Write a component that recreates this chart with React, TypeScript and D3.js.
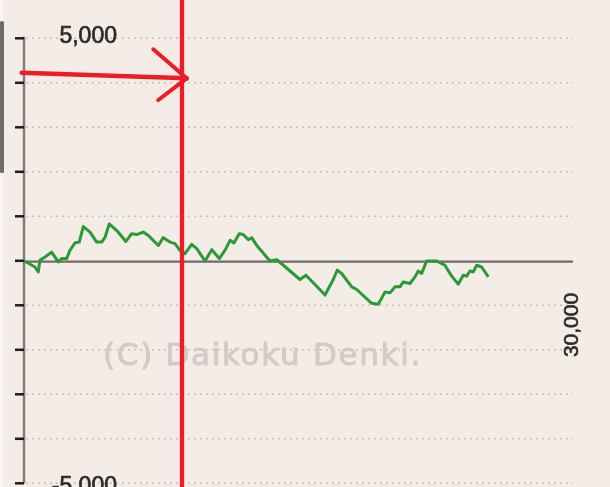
import React from "react";
import * as d3 from "d3";

// Games played (x) and coin difference (y)
const games = [
  0, 600, 780, 870, 1150, 1510, 1870, 2060, 2330, 2510, 2790, 3020, 3240, 3610,
  3970, 4250, 4430, 4660, 5070, 5570, 5880, 6160, 6520, 6790, 7340, 7610, 7980,
  8250, 8520, 8800, 9160, 9440, 9890, 10260, 10670, 10980, 11260, 11470, 11760,
  11980, 12260, 12440, 12720, 13440, 13810, 14170, 15080, 15410, 16450, 16900,
  17120, 17360, 17910, 18180, 19000, 19360, 19730, 20000, 20270, 20545, 20725,
  21090, 21365, 21545, 21730, 22000, 22550, 23000, 23370, 23730, 24000, 24190,
  24370, 24550, 24740, 25010, 25370,
];
const diff = [
  0, -140, -250, 10, 85, 195, -25, 50, 50, 235, 405, 420, 770, 645, 420, 420,
  530, 830, 680, 435, 610, 590, 645, 570, 345, 520, 420, 385, 235, 160, 370, 275,
  -5, 250, 50, 235, 460, 400, 610, 590, 475, 520, 345, -5, 25, -100, -420, -325,
  -770, -420, -210, -285, -585, -645, -955, -975, -700, -720, -585, -585, -475,
  -510, -360, -230, -285, -5, -5, -100, -345, -525, -325, -345, -230, -250, -100,
  -140, -360,
];

const yGridValues = [5000, 4000, 3000, 2000, 1000, -1000, -2000, -3000, -4000, -5000];
const yTickValues = [5000, 4000, 3000, 2000, 1000, 0, -1000, -2000, -3000, -4000, -5000];
const yLabels = [
  { value: 5000, text: "5,000" },
  { value: -5000, text: "-5,000" },
];
const xLabels = [{ value: 30000, text: "30,000" }];
const watermark = "(C) Daikoku Denki.";

// red hand-drawn annotation (in data units)
const markerGame = 8633;
const arrowStart = { g: -125, v: 4227 };
const arrowEnd = { g: 8890, v: 4101 };
const arrowWing1 = { g: 7065, v: 4753 };
const arrowWing2 = { g: 7338, v: 3613 };

export default function App() {
  const W = 610;
  const H = 487;
  const x = d3.scaleLinear().domain([0, 30000]).range([24, 573]);
  const y = d3.scaleLinear().domain([-5000, 5000]).range([483.3, 38.3]);
  const line = d3
    .line<number>()
    .x((_, i) => x(games[i]))
    .y((d) => y(d));
  const pathD = line(diff) || "";
  const font = "'Liberation Sans', Arial, sans-serif";
  const red = "#ee1c25";

  return (
    <svg
      width={W}
      height={H}
      style={{ position: "absolute", left: 0, top: 0, display: "block" }}
    >
      <defs>
        <filter id="soft" x="-5%" y="-5%" width="110%" height="110%">
          <feGaussianBlur stdDeviation="0.45" />
        </filter>
      </defs>
      <rect x={0} y={0} width={W} height={H} fill="#f4ece7" />
      <rect x={0} y={0} width={3} height={H} fill="#f6f4f4" />
      <rect x={0} y={21} width={4} height={152} rx={1.5} fill="#6d6b6b" />

      <g filter="url(#soft)">
        {/* grid */}
        {yGridValues.map((v) => (
          <line
            key={v}
            x1={x(0) + 2}
            x2={x(30000)}
            y1={y(v)}
            y2={y(v)}
            stroke="#c6c0bd"
            strokeWidth={1.6}
            strokeDasharray="2,4"
          />
        ))}

        {/* watermark */}
        <text
          x={103}
          y={365}
          fontFamily="'DejaVu Sans', Verdana, sans-serif"
          fontSize={31}
          letterSpacing={1.7}
          fill="#d3cbc7"
          stroke="#d3cbc7"
          strokeWidth={0.9}
        >
          {watermark}
        </text>

        {/* zero line */}
        <line
          x1={x(0)}
          x2={x(30000)}
          y1={y(0) + 0.8}
          y2={y(0) + 0.8}
          stroke="#726a6a"
          strokeWidth={2.2}
        />

        {/* y axis */}
        <line x1={x(0)} x2={x(0)} y1={y(5000) - 1.5} y2={y(-5000)} stroke="#857c7c" strokeWidth={2.5} />
        {yTickValues.map((v) => (
          <line
            key={v}
            x1={15}
            x2={x(0)}
            y1={y(v)}
            y2={y(v)}
            stroke="#1e1e1e"
            strokeWidth={2.5}
          />
        ))}

        {yLabels.map((l) => (
          <text
            key={l.value}
            x={117}
            y={y(l.value) + (l.value > 0 ? 4.5 : 9.5)}
            textAnchor="end"
            fontFamily={font}
            fontSize={23}
            fill="#2c2c2c"
            stroke="#2c2c2c"
            strokeWidth={0.7}
          >
            {l.text}
          </text>
        ))}

        {xLabels.map((l) => (
          <text
            key={l.value}
            transform={`translate(${x(l.value) + 5},325) rotate(-90)`}
            textAnchor="middle"
            fontFamily={font}
            fontSize={21}
            fill="#2c2c2c"
            stroke="#2c2c2c"
            strokeWidth={0.6}
          >
            {l.text}
          </text>
        ))}

        {/* data line */}
        <path d={pathD} fill="none" stroke="#2a9a36" strokeWidth={3} strokeLinejoin="round" />
      </g>

      {/* red annotation */}
      <line x1={x(markerGame)} x2={x(markerGame)} y1={0} y2={H} stroke={red} strokeWidth={4.3} />
      <line
        x1={x(arrowStart.g)}
        y1={y(arrowStart.v)}
        x2={x(arrowEnd.g)}
        y2={y(arrowEnd.v)}
        stroke={red}
        strokeWidth={4.5}
        strokeLinecap="round"
      />
      <line
        x1={x(arrowWing1.g)}
        y1={y(arrowWing1.v)}
        x2={x(arrowEnd.g)}
        y2={y(arrowEnd.v)}
        stroke={red}
        strokeWidth={4}
        strokeLinecap="round"
      />
      <line
        x1={x(arrowWing2.g)}
        y1={y(arrowWing2.v)}
        x2={x(arrowEnd.g)}
        y2={y(arrowEnd.v)}
        stroke={red}
        strokeWidth={4}
        strokeLinecap="round"
      />
    </svg>
  );
}
